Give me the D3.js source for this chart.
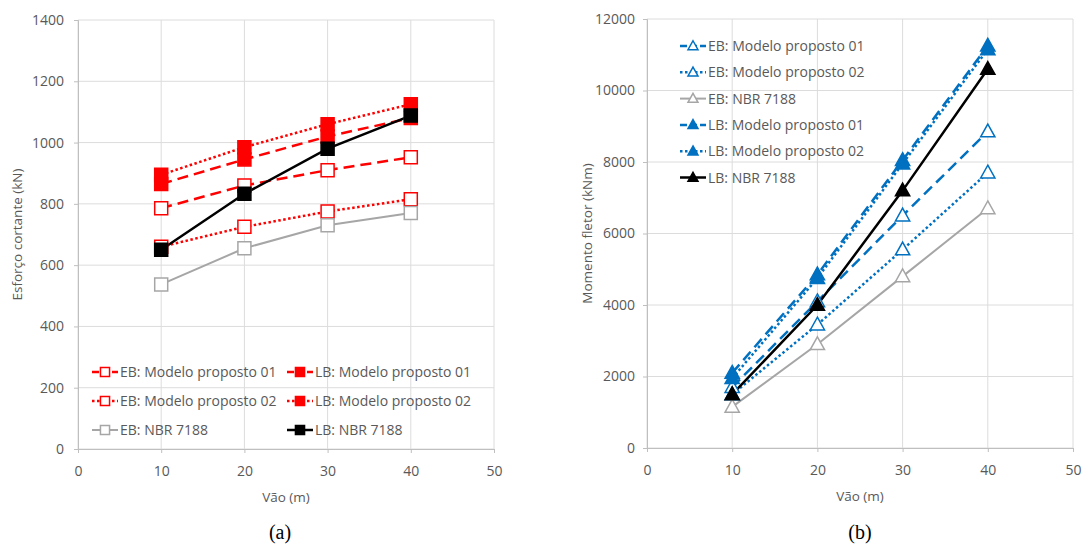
<!DOCTYPE html>
<html><head><meta charset="utf-8">
<script src="https://cdn.jsdelivr.net/npm/d3@7"></script>
<style>body{margin:0;background:#fff}svg{display:block}</style>
</head><body>
<svg id="c" width="1086" height="544"></svg>
<script>
const spans = [10, 20, 30, 40];
const xTicks = [0, 10, 20, 30, 40, 50];
const yTicksA = [0, 200, 400, 600, 800, 1000, 1200, 1400];
const yTicksB = [0, 2000, 4000, 6000, 8000, 10000, 12000];

// (a) Esforço cortante (kN)
const aEB01 = [786, 860, 910, 952];
const aLB01 = [865, 945, 1020, 1080];
const aEB02 = [660, 725, 775, 815];
const aLB02 = [895, 985, 1060, 1125];
const aEBNBR = [537, 655, 730, 770];
const aLBNBR = [650, 833, 980, 1088];

// (b) Momento fletor (kNm)
const bEB01 = [1700, 4100, 6500, 8850];
const bEB02 = [1500, 3450, 5550, 7700];
const bEBNBR = [1150, 2900, 4800, 6700];
const bLB01 = [2100, 4850, 8050, 11250];
const bLB02 = [1950, 4750, 7950, 11150];
const bLBNBR = [1500, 4000, 7200, 10600];

const RED = "#ff0000", BLUE = "#0070c0", GRAY = "#a6a6a6", BLACK = "#000000";
const DASH = "11,6", DOT = "2.5,2.5";
const FONT = "'Open Sans', sans-serif";

const svg = d3.select("#c");

function panel(opts) {
  const g = svg.append("g");
  const x = d3.scaleLinear().domain([0, 50]).range([opts.left, opts.right]);
  const y = d3.scaleLinear().domain([0, opts.ymax]).range([opts.bottom, opts.top]);
  // grid
  g.append("g").selectAll("line.v").data(xTicks).join("line")
    .attr("x1", d => x(d)).attr("x2", d => x(d)).attr("y1", opts.top).attr("y2", opts.bottom)
    .attr("stroke", "#dcdcdc").attr("stroke-width", 1);
  g.append("g").selectAll("line.h").data(opts.yTicks).join("line")
    .attr("y1", d => y(d)).attr("y2", d => y(d)).attr("x1", opts.left).attr("x2", opts.right)
    .attr("stroke", "#dcdcdc").attr("stroke-width", 1);
  // axes
  const ax = g.append("g").attr("transform", `translate(0,${opts.bottom})`)
    .call(d3.axisBottom(x).tickValues(xTicks).tickFormat(d3.format("d")).tickSize(4).tickPadding(13));
  const ay = g.append("g").attr("transform", `translate(${opts.left},0)`)
    .call(d3.axisLeft(y).tickValues(opts.yTicks).tickFormat(d3.format("d")).tickSize(4).tickPadding(opts.ypad));
  [ax, ay].forEach(a => {
    a.select(".domain").attr("stroke", "#bfbfbf");
    a.selectAll(".tick line").attr("stroke", "#bfbfbf");
    a.selectAll("text").attr("fill", "#595959").style("font-family", FONT).style("font-size", "14px");
  });
  g.append("text").attr("x", (opts.left + opts.right) / 2).attr("y", opts.bottom + 53)
    .attr("text-anchor", "middle").attr("fill", "#595959").style("font-family", FONT).style("font-size", "13.5px")
    .text("Vão (m)");
  g.append("text").attr("transform", `translate(${opts.ytx},${(opts.top + opts.bottom) / 2}) rotate(-90)`)
    .attr("text-anchor", "middle").attr("fill", "#595959").style("font-family", FONT).style("font-size", "13.5px")
    .text(opts.ytitle);
  g.append("text").attr("x", opts.letterX).attr("y", 539)
    .attr("text-anchor", "middle").attr("fill", "#000").style("font-family", "'Liberation Serif', serif").style("font-size", "20px")
    .text(opts.letter);

  const line = d3.line().x((d, i) => x(spans[i])).y(d => y(d));
  opts.series.forEach(s => {
    g.append("path").datum(s.values).attr("d", line).attr("fill", "none")
      .attr("stroke", s.color).attr("stroke-width", s.w || 2.5).attr("stroke-dasharray", s.dash || null);
  });
  opts.series.forEach(s => {
    g.append("g").selectAll("path").data(s.values).join("path")
      .attr("transform", (d, i) => `translate(${x(spans[i])},${y(d)})`)
      .attr("d", marker(s))
      .attr("fill", s.filled ? s.color : "#fff").attr("stroke", s.color).attr("stroke-width", 1.5);
  });
  // legend
  opts.series.forEach((s, i) => {
    const p = opts.legendPos(i);
    const lg = g.append("g").attr("transform", `translate(${p[0]},${p[1]})`);
    lg.append("line").attr("x1", 0).attr("x2", 26).attr("y1", 0).attr("y2", 0)
      .attr("stroke", s.color).attr("stroke-width", s.w || 2.5).attr("stroke-dasharray", s.dash ? (s.dash === DASH ? "7,3" : DOT) : null);
    lg.append("path").attr("transform", "translate(13,0)").attr("d", marker(s, true))
      .attr("fill", s.filled ? s.color : "#fff").attr("stroke", s.color).attr("stroke-width", 1.5);
    lg.append("text").attr("x", 28).attr("y", 5).attr("fill", "#595959")
      .style("font-family", FONT).style("font-size", "14px").text(s.name);
  });
}

function marker(s, small) {
  const k = small ? 0.7 : 1;
  if (s.shape === "square") {
    const h = 6.5 * k;
    return `M${-h},${-h}H${h}V${h}H${-h}Z`;
  }
  const r = 7.5 * k;
  return `M0,${-r}L${r * 0.95},${r * 0.7}L${-r * 0.95},${r * 0.7}Z`;
}

panel({
  left: 78, right: 494, top: 20, bottom: 449, ymax: 1400, yTicks: yTicksA, ypad: 10,
  ytitle: "Esforço cortante (kN)", ytx: 22, letter: "(a)", letterX: 280,
  series: [
    {name: "EB: Modelo proposto 01", values: aEB01, color: RED, dash: DASH, shape: "square"},
    {name: "LB: Modelo proposto 01", values: aLB01, color: RED, dash: DASH, shape: "square", filled: true},
    {name: "EB: Modelo proposto 02", values: aEB02, color: RED, dash: DOT, shape: "square"},
    {name: "LB: Modelo proposto 02", values: aLB02, color: RED, dash: DOT, shape: "square", filled: true},
    {name: "EB: NBR 7188", values: aEBNBR, color: GRAY, shape: "square", w: 2},
    {name: "LB: NBR 7188", values: aLBNBR, color: BLACK, shape: "square", filled: true}
  ],
  legendPos: i => [92 + (i % 2) * 195, 372 + Math.floor(i / 2) * 29]
});

panel({
  left: 647, right: 1073, top: 19, bottom: 448, ymax: 12000, yTicks: yTicksB, ypad: 8,
  ytitle: "Momento fletor (kNm)", ytx: 592, letter: "(b)", letterX: 860,
  series: [
    {name: "EB: Modelo proposto 01", values: bEB01, color: BLUE, dash: DASH, shape: "tri"},
    {name: "EB: Modelo proposto 02", values: bEB02, color: BLUE, dash: DOT, shape: "tri"},
    {name: "EB: NBR 7188", values: bEBNBR, color: GRAY, shape: "tri", w: 2},
    {name: "LB: Modelo proposto 01", values: bLB01, color: BLUE, dash: DASH, shape: "tri", filled: true},
    {name: "LB: Modelo proposto 02", values: bLB02, color: BLUE, dash: DOT, shape: "tri", filled: true},
    {name: "LB: NBR 7188", values: bLBNBR, color: BLACK, shape: "tri", filled: true}
  ],
  legendPos: i => [680, 46 + i * 26.3]
});
</script>
</body></html>
